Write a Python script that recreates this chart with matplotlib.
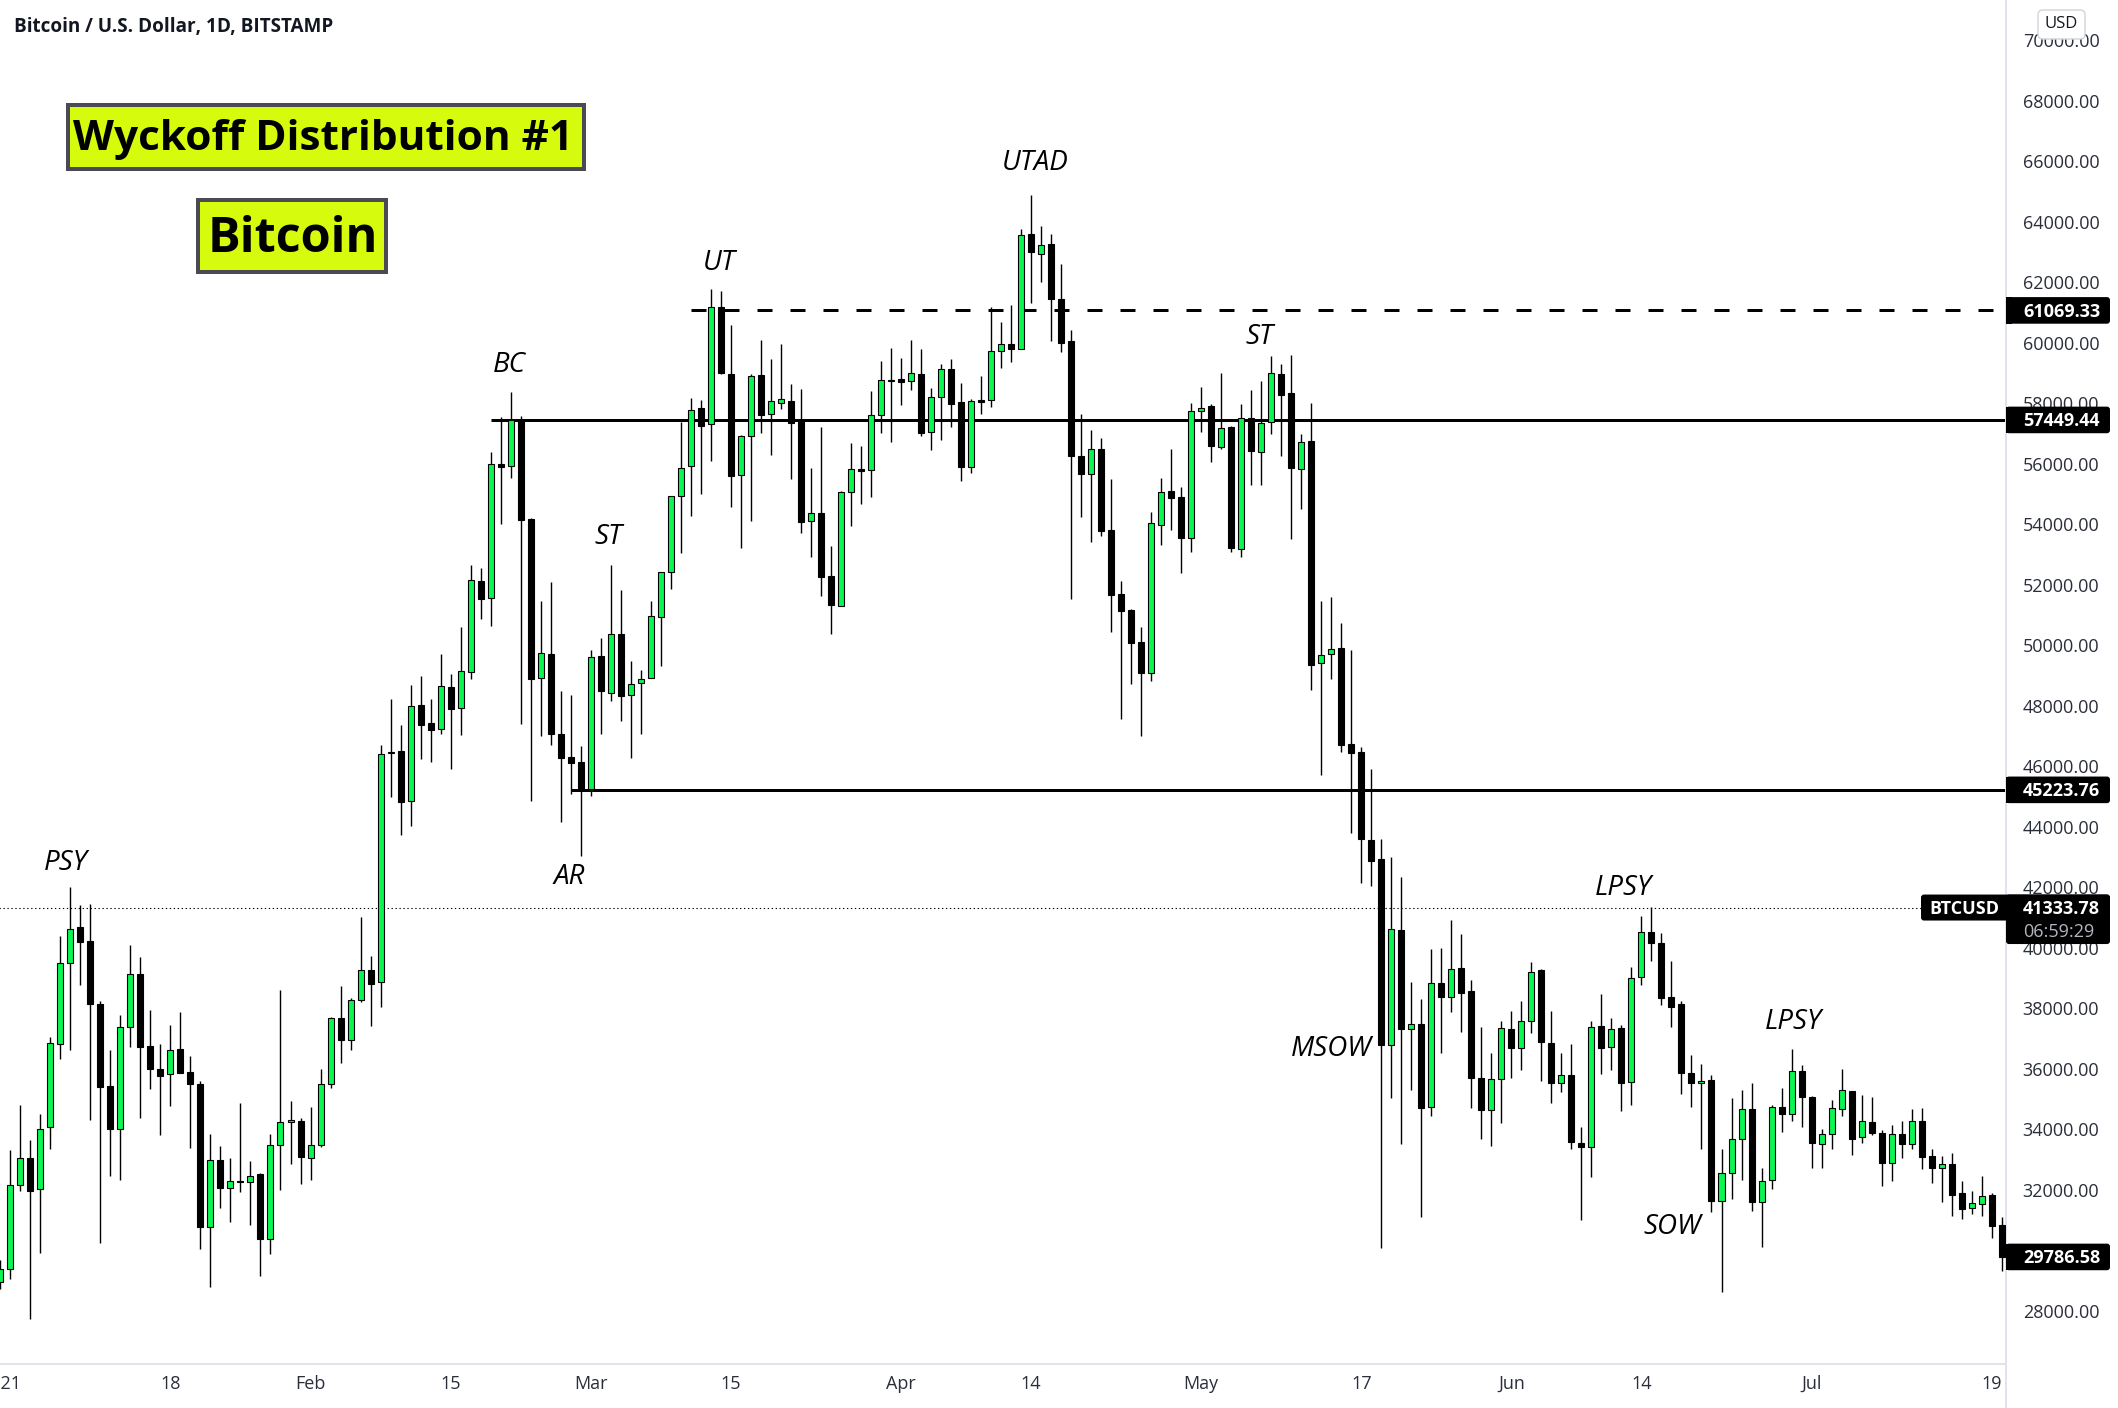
import matplotlib
matplotlib.use("Agg")
import matplotlib.pyplot as plt
from matplotlib.patches import FancyBboxPatch, Rectangle
from matplotlib.transforms import IdentityTransform

plt.rcParams['font.family'] = ['Open Sans', 'DejaVu Sans']

##### DATA ######
# daily candles, index 0 = 1 Jan 2021
opens = [28970, 29374, 32180, 33057, 32032, 34069, 36834, 39492, 40693, 40234,
         38143, 35432, 34001, 37374, 39141, 36753, 35998, 35823, 36659, 35904,
         35499, 30791, 32990, 32072, 32302, 32248, 32531, 30386, 33475, 34231,
         34271, 33071, 33475, 35486, 37684, 36969, 38291, 39276, 38858, 46430,
         46507, 44847, 48017, 47422, 47245, 48612, 47940, 49133, 52126, 51557,
         55984, 55916, 57440, 54174, 48917, 49713, 47073, 46311, 46152, 45241,
         49645, 48416, 50373, 48348, 48769, 48917, 50931, 52411, 54926, 55916,
         57850, 57304, 61171, 58956, 55620, 56906, 58923, 57634, 58019, 58078,
         57463, 54095, 54379, 52297, 51295, 55062, 55824, 55779, 57600, 58772,
         58795, 58726, 58965, 57042, 58191, 59136, 58042, 55902, 58103, 58115,
         59742, 59962, 59803, 63594, 62946, 63264, 61442, 60060, 56256, 55669,
         56489, 53811, 51695, 51169, 50105, 49090, 53982, 55095, 54899, 53554,
         57761, 57907, 56562, 57210, 53199, 57516, 56403, 57369, 58971, 58335,
         55841, 56746, 49413, 49709, 49896, 46745, 46464, 43578, 42923, 36792,
         40583, 37323, 37494, 34749, 38852, 38384, 39320, 38586, 35716, 34640,
         35669, 37307, 36683, 37588, 39257, 36870, 35529, 35810, 33548, 33423,
         37432, 36730, 37338, 35560, 39039, 40536, 40178, 38368, 38153, 35871,
         35530, 35640, 31651, 32554, 33700, 34681, 31618, 32323, 34747, 34494,
         35937, 35078, 33535, 33833, 34692, 35276, 33745, 34252, 33888, 32907,
         33855, 33535, 34285, 33127, 32742, 32863, 31904, 31397, 31529, 31838,
         30846]
closes = [29374, 32180, 33071, 31978, 34028, 36848, 39492, 40639, 40207, 38143,
          35418, 34001, 37374, 39128, 36740, 35984, 35782, 36619, 35877, 35486,
          30791, 32976, 32072, 32288, 32248, 32477, 30386, 33475, 34231, 34312,
          33097, 33502, 35486, 37671, 36969, 38291, 39263, 38817, 46399, 46485,
          44834, 47995, 47378, 47212, 48645, 47906, 49141, 52149, 51546, 55984,
          55904, 57463, 54152, 48871, 49736, 47085, 46288, 46095, 45218, 49611,
          48507, 50362, 48337, 48712, 48883, 50965, 52411, 54926, 55847, 57770,
          57258, 61171, 59011, 55608, 56906, 58886, 57622, 58066, 58129, 57361,
          54061, 54368, 52274, 51318, 55062, 55813, 55768, 57600, 58760, 58738,
          58715, 58988, 57020, 58191, 59125, 57981, 55902, 58091, 58042, 59742,
          59974, 59803, 63546, 62983, 63215, 61430, 59999, 56269, 55669, 56477,
          53786, 51670, 51144, 50080, 49090, 54055, 55082, 54874, 53554, 57761,
          57834, 56599, 57198, 53223, 57504, 56428, 57357, 58984, 58287, 55865,
          56734, 49359, 49678, 49881, 46714, 46433, 43594, 42876, 36792, 40630,
          37323, 37479, 34702, 38836, 38384, 39304, 38493, 35700, 34640, 35669,
          37354, 36683, 37588, 39210, 36886, 35529, 35794, 33579, 33423, 37385,
          36683, 37323, 35529, 39008, 40521, 40162, 38337, 38056, 35849, 35519,
          35596, 31651, 32554, 33678, 34670, 31618, 32290, 34736, 34494, 35926,
          35056, 33568, 33844, 34703, 35298, 33700, 34274, 33899, 32907, 33844,
          33535, 34274, 33105, 32742, 32852, 31849, 31386, 31562, 31794, 30824,
          29787]
highs = [29685, 33327, 34811, 33651, 34501, 37050, 40396, 42014, 41421, 41448,
         38237, 36632, 37779, 40099, 39694, 37954, 36821, 37455, 37887, 36430,
         35607, 33853, 33449, 33057, 34878, 32963, 32558, 33853, 38615, 34946,
         34379, 34743, 35998, 37711, 38736, 38345, 41016, 39735, 46705, 48226,
         47366, 48689, 48986, 48226, 49714, 49053, 50595, 52661, 52558, 56394,
         57543, 58374, 57566, 54209, 51466, 52092, 48496, 48359, 46675, 49850,
         50248, 52661, 51830, 49486, 49190, 51466, 52411, 54926, 57395, 58180,
         58112, 61777, 61711, 60587, 56940, 58956, 60091, 59463, 59959, 58636,
         58471, 55859, 57213, 53287, 55108, 56689, 56587, 58408, 59396, 59826,
         59496, 60091, 59793, 58504, 59297, 59463, 58666, 58140, 58898, 61197,
         60671, 61246, 63766, 64879, 63863, 63594, 62604, 60415, 57638, 57112,
         56856, 55498, 52123, 51217, 50606, 54397, 55523, 56489, 55229, 58005,
         58531, 57969, 58996, 57247, 57969, 58433, 58739, 59558, 59302, 59595,
         56978, 58005, 51456, 51581, 50723, 49834, 46652, 45903, 43610, 43017,
         42330, 38883, 38321, 39975, 40006, 40911, 40443, 38930, 37370, 36543,
         37572, 37931, 38259, 39522, 39288, 37931, 36512, 36808, 34094, 37572,
         38462, 37697, 37463, 39382, 41067, 41363, 40505, 39554, 38241, 36466,
         36169, 35805, 33359, 35045, 35309, 35541, 32731, 34813, 35376, 36665,
         36136, 35111, 34020, 34979, 36004, 35276, 35144, 35078, 33987, 34152,
         34285, 34681, 34714, 33359, 33127, 33227, 32301, 31970, 32466, 31904,
         31110]
lows = [28727, 29064, 31964, 27729, 29914, 33354, 36322, 36632, 38777, 34325,
        30251, 32464, 32342, 36726, 34379, 35337, 33813, 34770, 35877, 33381,
        30049, 28794, 31398, 30939, 31937, 30845, 29159, 29887, 32005, 32855,
        32194, 32329, 33421, 35377, 36200, 36632, 38210, 37415, 38048, 44982,
        43728, 44025, 46254, 46143, 47069, 45920, 47036, 48894, 50874, 50647,
        54026, 55529, 47403, 44866, 47005, 46709, 44160, 45070, 43022, 45036,
        47073, 48166, 47506, 46277, 47073, 48917, 49327, 51876, 53036, 54288,
        55005, 56098, 58967, 54573, 53218, 54106, 57020, 56291, 57821, 55494,
        53719, 52923, 51637, 50385, 51295, 53947, 54675, 54903, 57020, 56724,
        57953, 58449, 56928, 56462, 56792, 57210, 55425, 55694, 57638, 57883,
        59167, 59363, 59803, 61307, 62004, 60060, 59693, 51523, 54238, 53407,
        53615, 50435, 47561, 48710, 47000, 48821, 53309, 53811, 52392, 53077,
        57051, 56061, 56489, 53077, 52917, 55290, 55290, 56978, 56256, 53505,
        54508, 48515, 45700, 48898, 46464, 43797, 42143, 42034, 30084, 35030,
        33532, 35295, 31114, 34437, 36512, 37869, 37229, 34718, 33672, 33454,
        34203, 35716, 35950, 37198, 35591, 34858, 35248, 33345, 31020, 32440,
        35841, 35981, 34624, 34796, 38758, 39554, 38103, 37370, 35177, 34747,
        33359, 31287, 28642, 31706, 32334, 31320, 30130, 32037, 33932, 34284,
        34086, 32731, 32731, 33359, 34450, 33161, 33557, 33822, 32136, 32301,
        33061, 33359, 32698, 32235, 31618, 31144, 31044, 31221, 31144, 30416,
        29325]

price_ticks = list(range(28000, 70001, 2000))
date_ticks = [0, 17, 31, 45, 59, 73, 90, 103, 120, 136, 151, 164, 181, 199]
date_labels = ['2021', '18', 'Feb', '15', 'Mar', '15', 'Apr', '14', 'May', '17', 'Jun', '14', 'Jul', '19']

# horizontal levels: price, first candle index
top_level = 61069.33
top_level_start = 69
upper_level = 57449.44
upper_level_start = 49
lower_level = 45223.76
lower_level_start = 57
last_price = 41333.78
close_price = 29786.58

note_names = ['PSY', 'BC', 'UT', 'ST', 'AR', 'UTAD', 'ST', 'LPSY', 'MSOW', 'LPSY', 'SOW']
note_index = [6.55, 50.9, 71.8, 60.8, 56.9, 103.4, 125.8, 162.2, 133.0, 179.2, 167.1]
note_price = [42790, 59250, 62620, 53565, 42330, 65925, 60175, 41965, 36645, 37535, 30760]

GREEN = '#0BF651'
INK = '#131722'
PX = 0.72  # one pixel in points at dpi 100

##### MAIN ######
W, H = 2118, 1408
fig = plt.figure(figsize=(W / 100, H / 100), dpi=100, facecolor='white')
ax = fig.add_axes([0, 44 / H, 2006 / W, 1364 / H])
ax.set_xlim(-0.03, 200.43)
ax.set_ylim(26248, 71328)

for spine in ['top', 'left']:
    ax.spines[spine].set_visible(False)
for spine in ['right', 'bottom']:
    ax.spines[spine].set_color('#e0e3eb')
    ax.spines[spine].set_linewidth(2 * PX)

# levels go under the candles
ax.hlines(upper_level, upper_level_start, 201, color='black', lw=3 * PX, zorder=1)
ax.hlines(lower_level, lower_level_start, 201, color='black', lw=3 * PX, zorder=1)
ax.plot([top_level_start, 201], [top_level, top_level], color='black', lw=3 * PX,
        dashes=(5.0, 6.0), dash_capstyle='butt', zorder=1)
ax.hlines(last_price, -1, 201, color='black', lw=1.1 * PX, linestyles=(0, (1.2, 2.4)), zorder=1)

days = list(range(len(opens)))
ax.vlines(days, lows, highs, color='black', lw=1.4 * PX, zorder=2)
for d in days:
    up = closes[d] >= opens[d]
    ax.bar(d, closes[d] - opens[d], bottom=opens[d], width=0.6,
           color=GREEN if up else 'black', edgecolor='black', linewidth=1.1 * PX, zorder=3)

ax.yaxis.tick_right()
ax.set_yticks(price_ticks)
ax.set_yticklabels(['%.2f' % p for p in price_ticks], fontsize=13, color='#2a2e39', ha='left')
ax.tick_params(axis='y', length=0, pad=12)
ax.set_xticks(date_ticks)
ax.set_xticklabels(date_labels, fontsize=13, color='#2a2e39')
ax.tick_params(axis='x', length=0, pad=8)

for name, i, p in zip(note_names, note_index, note_price):
    ax.text(i, p, name, fontsize=20, style='italic', color='black', ha='center', va='center', zorder=6)


# right scale tags are placed from the price through the axes scale
def px_y(price):
    return ax.transData.transform((0, price))[1]


def tag(x0, x1, y0, y1):
    fig.add_artist(FancyBboxPatch((x0 + 3, y0 + 3), x1 - x0 - 6, y1 - y0 - 6, boxstyle='round,pad=3,rounding_size=3',
                                  fc='black', ec='none', transform=IdentityTransform(), zorder=5))


def px_text(x, y, s, **kw):
    fig.text(x / W, y / H, s, zorder=6, **kw)


AXR = 2006
for level in [top_level, upper_level, lower_level, close_price]:
    y = px_y(level)
    tag(AXR, 2110, y - 13.3, y + 13.3)
    fig.add_artist(Rectangle((AXR, y - 13.3), 6, 26.6, fc='black', ec='none', transform=IdentityTransform(), zorder=5))
    px_text(2023, y - 1.5, '%.2f' % level, fontsize=13, color='white', weight='bold', va='center', ha='left')

y = px_y(last_price)
tag(1921, 2110, y - 13, y + 13)
tag(AXR, 2110, y - 36.5, y + 13)
px_text(1929, y - 1.5, 'BTCUSD', fontsize=13, color='white', weight='bold', va='center', ha='left')
px_text(2023, y - 1.5, '%.2f' % last_price, fontsize=13, color='white', weight='bold', va='center', ha='left')
px_text(2023, y - 24, '06:59:29', fontsize=13, color='#b2b5be', va='center', ha='left')

# USD button
fig.add_artist(FancyBboxPatch((2042, H - 35), 39, 21, boxstyle='round,pad=4,rounding_size=5', fc='white', ec='#d1d4dc',
                              lw=1.4 * PX, transform=IdentityTransform(), zorder=5))
px_text(2061, H - 24, 'USD', fontsize=12, color=INK, va='center', ha='center')

# right axis line runs down past the time scale
fig.add_artist(Rectangle((AXR - 1, 0), 2, 44, fc='#e0e3eb', ec='none', transform=IdentityTransform(), zorder=1))

# header and the two title boxes
px_text(14, H - 27, 'Bitcoin / U.S. Dollar, 1D, BITSTAMP', fontsize=13.6, color=INK, weight='bold', va='center', ha='left')

fig.add_artist(Rectangle((68, H - 169), 516, 64, fc='#D6FB0C', ec='#4a4a55', lw=4 * PX,
                         transform=IdentityTransform(), zorder=5))
px_text(323, H - 140, 'Wyckoff Distribution #1', fontsize=30.5, color='black', weight='bold', va='center', ha='center')
fig.add_artist(Rectangle((198, H - 272), 188, 72, fc='#D6FB0C', ec='#4a4a55', lw=4 * PX,
                         transform=IdentityTransform(), zorder=5))
px_text(293, H - 240, 'Bitcoin', fontsize=35, color='black', weight='bold', va='center', ha='center')

fig.savefig('out.png', dpi=100)
